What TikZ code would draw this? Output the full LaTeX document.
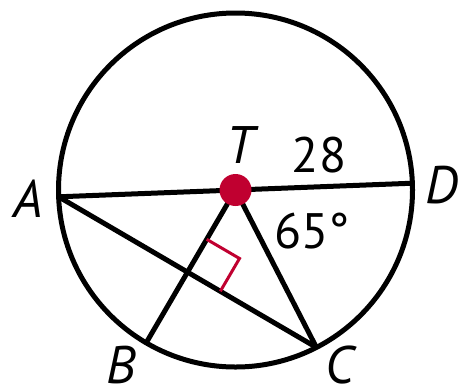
\documentclass[tikz,border=0pt]{standalone}
\usepackage{fontspec}
\setmainfont{PT Sans}
\usetikzlibrary{calc}
\definecolor{dotred}{RGB}{192,0,48}
\begin{document}
\begin{tikzpicture}[x=1bp,y=1bp,
  stroke/.style={line width=5bp,black},
  lbl/.style={font=\fontsize{53}{53}\selectfont\itshape,inner sep=0pt,anchor=base},
  num/.style={font=\fontsize{50}{50}\selectfont,inner sep=0pt,anchor=base}]
\useasboundingbox (0,0) rectangle (459,-389);
\coordinate (O) at (235.5,-190);
\coordinate (A) at ([shift={(O)}]182.2:177);
\coordinate (D) at ([shift={(O)}]2.2:177);
\coordinate (C) at ([shift={(O)}]-62.8:177);
\coordinate (B) at ([shift={(O)}]239.7:177);
\coordinate (P) at ($(A)!0.5!(C)$);
\coordinate (M1) at ($(P)!38bp!(O)$);
\coordinate (M2) at ($(P)!38bp!(C)$);
\coordinate (M3) at ($(M1)+(M2)-(P)$);
\draw[stroke] (O) circle (177);
\draw[stroke] (A) -- (D);
\draw[stroke] (A) -- (C);
\draw[stroke] (O) -- (B);
\draw[stroke] (O) -- (C);
\draw[dotred,line width=3bp] (M1) -- (M3) -- (M2);
\node[circle,fill=dotred,minimum size=32bp,inner sep=0pt] (T) at (O) {};
\node[lbl] (lA) at (28,-217) {A};
\node[lbl] (lD) at (442,-203) {D};
\node[lbl] (lB) at (121,-383) {B};
\node[lbl] (lC) at (340,-383) {C};
\node[lbl] (lT) at (240,-163) {T};
\node[num] (l28) at (319,-172) {28};
\node[num] (l65) at (312,-248) {65°};
\end{tikzpicture}
\end{document}
